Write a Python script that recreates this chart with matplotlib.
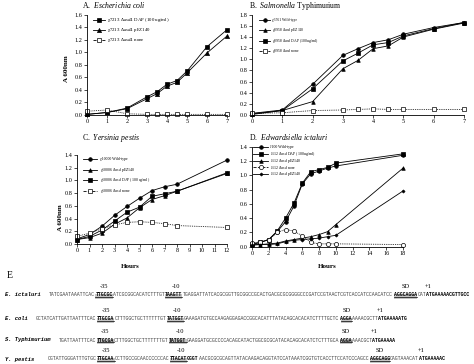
import matplotlib
matplotlib.use('Agg')
import matplotlib.pyplot as plt
from matplotlib.patches import Rectangle
from matplotlib.lines import Line2D

plt.rcParams['font.family'] = ['Liberation Serif', 'DejaVu Serif']
plt.rcParams['mathtext.fontset'] = 'custom'
plt.rcParams['mathtext.rm'] = 'Liberation Serif'
plt.rcParams['mathtext.it'] = 'Liberation Serif:italic'
plt.rcParams['mathtext.bf'] = 'Liberation Serif:bold'

# ---------------- data ----------------
A_hours = [0, 1, 2, 3, 3.5, 4, 4.5, 5, 6, 7]
A_dap = [0.01, 0.04, 0.11, 0.29, 0.37, 0.49, 0.55, 0.70, 1.09, 1.36]
A_pez = [0.01, 0.04, 0.10, 0.26, 0.34, 0.46, 0.52, 0.67, 0.99, 1.26]
A_none = [0.06, 0.08, 0.02, 0.01, 0.01, 0.01, 0.01, 0.01, 0.01, 0.01]
A_labels = [r'χ7213 Δ$\mathit{asd4}$ DAP (100 ug/ml)',
            r'χ7213 Δ$\mathit{asd4}$ pEZ140',
            r'χ7213 Δ$\mathit{asd4}$ none']

B_hours = [0, 1, 2, 3, 3.5, 4, 4.5, 5, 6, 7]
B_wt = [0.03, 0.09, 0.55, 1.07, 1.19, 1.30, 1.35, 1.45, 1.57, 1.66]
B_pez = [0.01, 0.08, 0.24, 0.83, 0.98, 1.19, 1.24, 1.40, 1.54, 1.65]
B_dap = [0.02, 0.08, 0.47, 0.97, 1.11, 1.26, 1.30, 1.42, 1.55, 1.66]
B_none = [0.03, 0.04, 0.08, 0.09, 0.10, 0.11, 0.10, 0.10, 0.10, 0.10]
B_labels = [r'χ3761 Wild-type',
            r'χ8958 Δ$\mathit{asd}$ pEZ140',
            r'χ8958 Δ$\mathit{asd}$ DAP (100 ug/ml)',
            r'χ8958 Δ$\mathit{asd}$ none']

C_hours = [0, 1, 2, 3, 4, 5, 6, 7, 8, 12]
C_wt = [0.08, 0.15, 0.28, 0.45, 0.59, 0.72, 0.84, 0.90, 0.94, 1.32]
C_pez = [0.07, 0.10, 0.17, 0.31, 0.41, 0.57, 0.70, 0.76, 0.83, 1.12]
C_dap = [0.07, 0.12, 0.22, 0.36, 0.50, 0.58, 0.75, 0.79, 0.83, 1.11]
C_none = [0.12, 0.17, 0.24, 0.30, 0.34, 0.35, 0.34, 0.32, 0.29, 0.26]
C_labels = [r'χ10000 Wild-type',
            r'χ10006 Δ$\mathit{asd}$ pEZ140',
            r'χ10006 Δ$\mathit{asd}$ DAP (100 ug/ml)',
            r'χ10006 Δ$\mathit{asd}$ none']

D_hours = [0, 1, 2, 3, 4, 5, 6, 7, 8, 9, 10, 18]
D_wt = [0.03, 0.06, 0.10, 0.21, 0.35, 0.57, 0.88, 1.02, 1.06, 1.10, 1.13, 1.28]
D_dap = [0.04, 0.06, 0.10, 0.22, 0.40, 0.61, 0.89, 1.05, 1.08, 1.11, 1.17, 1.30]
D_pez = [0.03, 0.03, 0.04, 0.05, 0.08, 0.10, 0.12, 0.14, 0.17, 0.21, 0.31, 1.10]
D_none = [0.05, 0.07, 0.10, 0.20, 0.24, 0.22, 0.15, 0.06, 0.04, 0.04, 0.04, 0.03]
D_pez2 = [0.02, 0.03, 0.03, 0.04, 0.07, 0.09, 0.10, 0.11, 0.12, 0.14, 0.16, 0.78]
D_labels = [r'J100 Wild-type',
            r'J112 Δ$\mathit{asd}$ DAP (100 ug/ml)',
            r'J112 Δ$\mathit{asd}$ pEZ140',
            r'J112 Δ$\mathit{asd}$ none',
            r'J112 Δ$\mathit{asd}$ pEZ140']

# promoter sequences: (text, element)
seq_names = ['E. ictaluri', 'E. coli', 'S. Typhimurium', 'Y. pestis']
seq_ictaluri = [('TATCGAATAAATTCAC', ''), ('TTGCGC', '-35'), ('ATCGCGGCACATCTTTGT', ''),
                ('TAAGTT', '-10'),
                ('TGAGGATTATCACGCGGTTGCGGCCGCACTGACGCGCGGGGCCCGATCCGTAACTCGTCACCATCCAACATCC', ''),
                ('AGGCAGGA', 'SD'), ('CAT', ''), ('ATGAAAAACGTTGCC', '+1')]
seq_coli = [('GCTATCATTGATTAATTTCAC', ''), ('TTGCGA', '-35'), ('CTTTGGCTGCTTTTTTGT', ''),
            ('TATGGT', '-10'),
            ('GAAAGATGTGCCAAGAGGAGACCGGCACATTTATACAGCACACATCTTTTGCTC', ''),
            ('AGGA', 'SD'), ('AAAACGCTT', ''), ('ATGAAAAATG', '+1')]
seq_typhi = [('TGATTAATTTCAC', ''), ('TTGCGA', '-35'), ('CTTTGGCTGCTTTTTTTGT', ''),
             ('TATGGT', '-10'),
             ('GAAGGATGCGCCCCACAGCATACTGGCGCGCATACACAGCACATCTCTTTGCA', ''),
             ('AGGA', 'SD'), ('AAACGCT', ''), ('ATGAAAAA', '+1')]
seq_pestis = [('CGTATTGGGATTTGTGC', ''), ('TTGCAA', '-35'), ('CCTTGCCGCAACCCCCCAC', ''),
              ('TTACAT', '-10'), ('GGGT', 'b'),
              ('AACGCGCGCAGTTATACAAGACAGGTATCCATAAATCGGTGTCACCTTCCATCCCAGCC', ''),
              ('AGGCAGG', 'SD'), ('CAGTAAACAT', ''), ('ATGAAAAAC', '+1')]
seq_rows = [seq_ictaluri, seq_coli, seq_typhi, seq_pestis]

# ---------------- figure ----------------
W, H = 474, 364
fig = plt.figure(figsize=(W / 100, H / 100), dpi=100)


def fx(px):
    return px / W


def fy(py):
    return 1 - py / H


def make_ax(left, right, top, bottom):
    return fig.add_axes([fx(left), fy(bottom), (right - left) / W, (bottom - top) / H])


def style(ax, xmax, xticks, ymax, ystep):
    ax.set_xlim(0, xmax)
    ax.set_ylim(0, ymax)
    ax.set_xticks(xticks)
    n = int(round(ymax / ystep))
    ax.set_yticks([i * ystep for i in range(n + 1)])
    ax.set_yticklabels(['%.1f' % (i * ystep) for i in range(n + 1)])
    for s in ['top', 'right']:
        ax.spines[s].set_visible(False)
    for s in ['left', 'bottom']:
        ax.spines[s].set_linewidth(0.6)
    ax.tick_params(labelsize=4.5, length=2, width=0.5, pad=1.2)


LW = 0.6
DOT = (0, (1, 1.2))


def line(ax, x, y, marker, label, ms=3.0, open_=False, ls='-'):
    ax.plot(x, y, color='black', lw=LW, ls=ls, marker=marker, ms=ms,
            mfc='white' if open_ else 'black', mec='black', mew=0.5,
            label=label, clip_on=False)


def legend(ax, xh0, xh1, xt, y0, dy, fs):
    """Key drawn from the plotted lines' own styles."""
    for i, ln in enumerate(ax.get_lines()):
        y = y0 + i * dy
        fig.add_artist(Line2D([fx(xh0), fx(xh1)], [fy(y), fy(y)], transform=fig.transFigure,
                              color='black', lw=LW, ls=ln.get_linestyle()))
        fig.add_artist(Line2D([fx((xh0 + xh1) / 2)], [fy(y)], transform=fig.transFigure,
                              ls='none', marker=ln.get_marker(), ms=ln.get_markersize(),
                              mfc=ln.get_markerfacecolor(), mec='black', mew=0.5))
        fig.text(fx(xt), fy(y), ln.get_label(), fontsize=fs, va='center', ha='left')


# Panel A
axA = make_ax(87, 227, 14.7, 115)
style(axA, 7, range(0, 8), 1.6, 0.2)
line(axA, A_hours, A_dap, 's', A_labels[0])
line(axA, A_hours, A_pez, '^', A_labels[1])
line(axA, A_hours, A_none, 's', A_labels[2], open_=True, ls=DOT)
legend(axA, 93, 105, 107, 20, 10, 3.5)

# Panel B
axB = make_ax(252, 464, 14.7, 115)
style(axB, 7, range(0, 8), 1.8, 0.2)
line(axB, B_hours, B_wt, 'o', B_labels[0], ms=2.6)
line(axB, B_hours, B_pez, '^', B_labels[1], ms=2.6)
line(axB, B_hours, B_dap, 's', B_labels[2], ms=2.6)
line(axB, B_hours, B_none, 's', B_labels[3], ms=2.8, open_=True, ls=DOT)
legend(axB, 259, 270, 272, 20, 10.3, 2.7)

# Panel C
axC = make_ax(77, 227, 155, 244)
style(axC, 12, range(0, 13), 1.4, 0.2)
line(axC, C_hours, C_wt, 'o', C_labels[0], ms=2.6)
line(axC, C_hours, C_pez, '^', C_labels[1], ms=2.6)
line(axC, C_hours, C_dap, 's', C_labels[2], ms=2.6)
line(axC, C_hours, C_none, 's', C_labels[3], ms=2.8, open_=True, ls=DOT)
legend(axC, 83, 97, 100, 159, 10.7, 2.8)

# Panel D
axD = make_ax(252, 403, 146.7, 246.7)
style(axD, 18, range(0, 19, 2), 1.4, 0.2)
line(axD, D_hours, D_wt, 'o', D_labels[0], ms=2.6)
line(axD, D_hours, D_dap, 's', D_labels[1], ms=2.8)
line(axD, D_hours, D_pez, '^', D_labels[2], ms=2.6)
line(axD, D_hours, D_none, 'o', D_labels[3], ms=3.0, open_=True, ls=DOT)
line(axD, D_hours, D_pez2, 'D', D_labels[4], ms=1.6)
legend(axD, 253, 268, 270, 147, 6.8, 2.8)

# titles and axis labels
tfs = 5.6
fig.text(fx(82), fy(5.5), r'A.  $\mathit{Escherichia\ coli}$', fontsize=tfs, va='center')
fig.text(fx(249), fy(5.5), r'B.  $\mathit{Salmonella}$ Typhimurium', fontsize=tfs, va='center')
fig.text(fx(82), fy(137.5), r'C.  $\mathit{Yersinia\ pestis}$', fontsize=tfs, va='center')
fig.text(fx(249), fy(137.5), r'D.  $\mathit{Edwardsiella\ ictaluri}$', fontsize=tfs, va='center')
fig.text(fx(66), fy(69), 'A 600nm', fontsize=5, weight='bold', rotation=90, ha='center', va='center')
fig.text(fx(60), fy(218), 'A 600nm', fontsize=5, weight='bold', rotation=90, ha='center', va='center')
fig.text(fx(130), fy(266), 'Hours', fontsize=5, weight='bold', ha='center', va='center')
fig.text(fx(327), fy(267), 'Hours', fontsize=5, weight='bold', ha='center', va='center')
fig.text(fx(7), fy(275), 'E', fontsize=7, va='center')

# ---------------- panel E: sequences ----------------
row_y = [295, 319, 340, 359]
row_x0 = [49, 36, 59, 48]
CW = 2.9
SEQ_FS = CW / 0.6 * 72 / 100
for name, segs, y, x0 in zip(seq_names, seq_rows, row_y, row_x0):
    fig.text(fx(5), fy(y), name, family='Liberation Mono', weight='bold', style='italic',
             fontsize=4.0, va='center')
    idx = 0
    for text, kind in segs:
        xs = x0 + idx * CW
        xe = xs + len(text) * CW
        if kind in ('-35', '-10', 'SD'):
            fig.add_artist(Rectangle((fx(xs), fy(y + 3.6)), (xe - xs) / W, 4.6 / H,
                                     transform=fig.transFigure, facecolor='#c4c4c4',
                                     edgecolor='none', zorder=1))
            fig.add_artist(Line2D([fx(xs), fx(xe)], [fy(y + 2.3), fy(y + 2.3)],
                                  transform=fig.transFigure, color='black', lw=0.5, zorder=2))
            fig.text(fx(xs), fy(y), text, family='Liberation Mono', weight='bold',
                     fontsize=SEQ_FS, va='center', zorder=3)
            fig.text(fx((xs + xe) / 2 + (2 if kind == '-10' else 0)), fy(y - 8.5), kind,
                     fontsize=4.6, ha='center', va='center')
        elif kind in ('+1', 'b'):
            fig.text(fx(xs), fy(y), text, family='Liberation Mono', weight='bold',
                     fontsize=SEQ_FS, va='center', zorder=3)
            if kind == '+1':
                fig.text(fx(xs + 2), fy(y - 8.5), '+1', fontsize=4.6, ha='center', va='center')
        else:
            fig.text(fx(xs), fy(y), text, family='Liberation Mono', color='#444444',
                     fontsize=SEQ_FS, va='center', zorder=3)
        idx += len(text)

fig.savefig('out.png', dpi=100)
